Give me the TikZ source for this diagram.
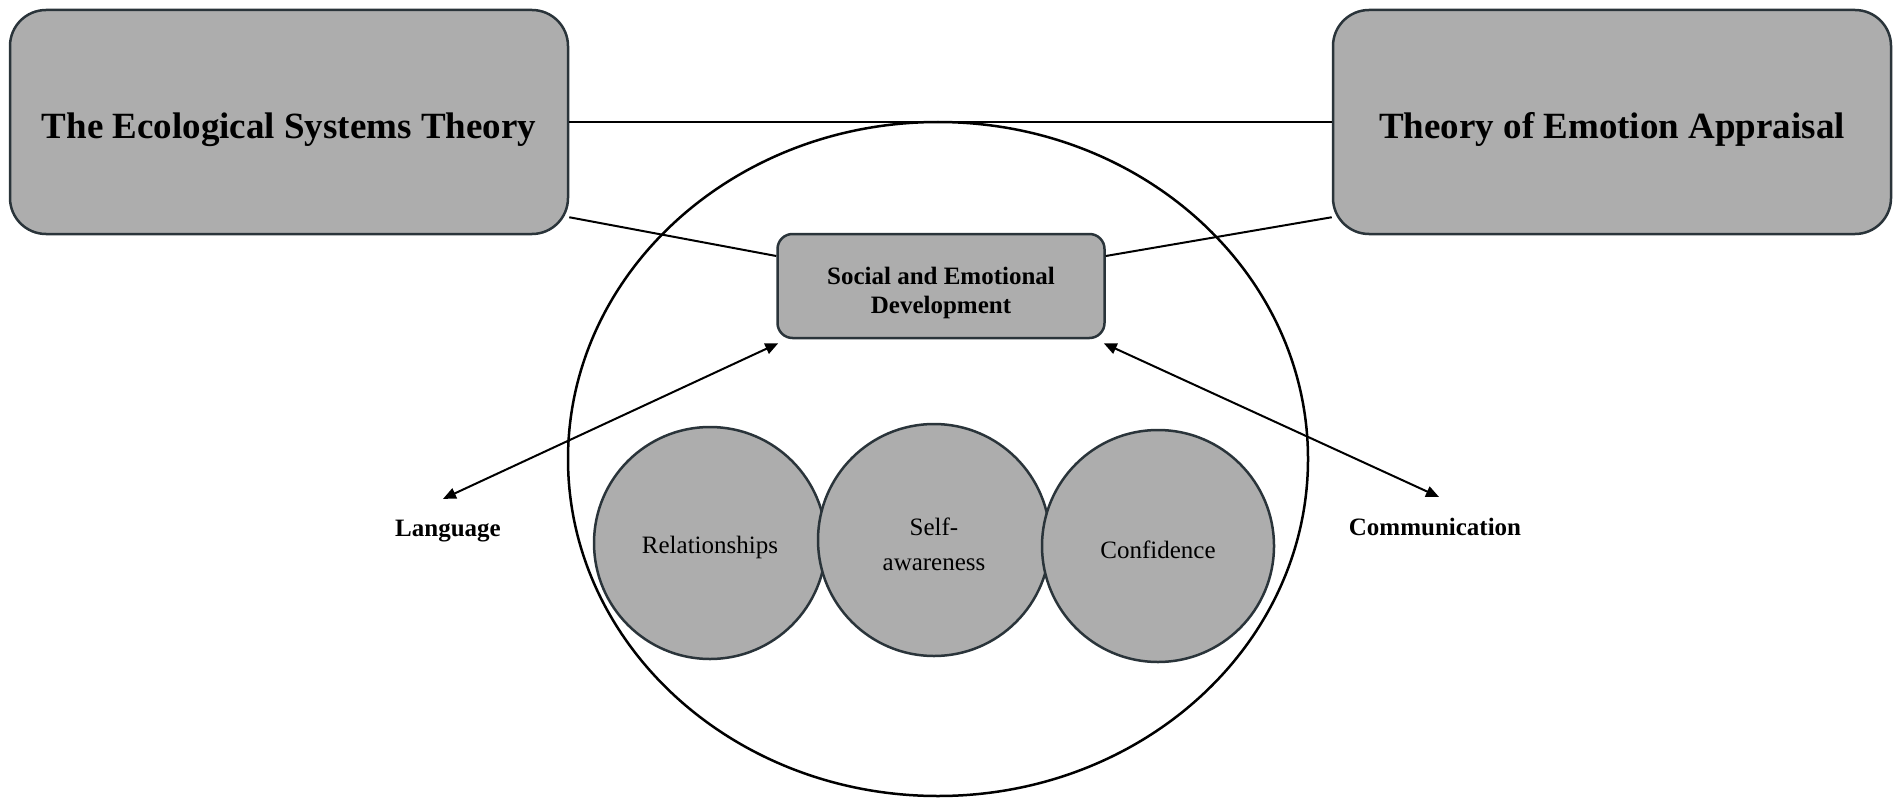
\documentclass[tikz,border=0pt]{standalone}
\usepackage{fontspec}
\setmainfont{Liberation Serif}
\usetikzlibrary{shapes.geometric,arrows.meta}
\definecolor{boxfill}{RGB}{173,173,173}
\definecolor{edgecol}{RGB}{42,52,58}
\begin{document}
\begin{tikzpicture}[x=1pt,y=-1pt,
  theory/.style={draw=edgecol, line width=2.5pt, fill=boxfill, rounded corners=36pt,
    minimum width=558pt, minimum height=224pt, inner sep=0pt,
    text height=40.5pt, text depth=8pt,
    font=\fontsize{37}{44}\selectfont\bfseries},
  sedbox/.style={draw=edgecol, line width=2.5pt, fill=boxfill, rounded corners=15pt,
    minimum width=327pt, minimum height=104pt, inner sep=0pt, align=center,
    font=\fontsize{25}{29}\selectfont\bfseries},
  bubble/.style={circle, draw=edgecol, line width=2.5pt, fill=boxfill, minimum size=232pt,
    inner sep=0pt, align=center, font=\fontsize{25}{35}\selectfont},
  outer/.style={ellipse, draw=black, line width=2.5pt, minimum width=740pt,
    minimum height=674pt, inner sep=0pt},
  lbl/.style={font=\fontsize{25}{30}\selectfont\bfseries, inner sep=2pt},
  link/.style={draw=black, line width=2pt},
  dbl/.style={draw=black, line width=2pt,
    {Triangle[length=13pt,width=11pt]}-{Triangle[length=13pt,width=11pt]}}
]
\useasboundingbox (0,0) rectangle (1902,805);

\node[theory] (eco) at (289,122) {The Ecological Systems Theory};
\node[theory] (app) at (1612,122) {Theory of Emotion Appraisal};

\node[bubble] (rel) at (710,543) {\rule{0pt}{26pt}Relationships};
\node[bubble] (self) at (934,540) {\rule{0pt}{26pt}Self-\\awareness};
\node[bubble] (conf) at (1158,546) {\rule{0pt}{26pt}Confidence};

\node[outer] (circ) at (938,459) {};

\node[sedbox] (sed) at (941,286) {\rule{0pt}{31pt}Social and Emotional\\Development};

\node[lbl] (lang) at (448,531) {Language};
\node[lbl] (comm) at (1435,527) {Communication};

\draw[link] (eco.east) -- (app.west);
\draw[link] ([yshift=18pt]eco.south east) -- ([yshift=30pt]sed.west);
\draw[link] ([yshift=18pt]app.south west) -- ([yshift=30pt]sed.east);
\draw[dbl] ([yshift=-4pt,xshift=2pt]sed.south west) -- ([yshift=19pt,xshift=-5pt]lang.north);
\draw[dbl] ([yshift=-4pt,xshift=-2pt]sed.south east) -- ([yshift=19pt,xshift=4pt]comm.north);
\end{tikzpicture}
\end{document}
